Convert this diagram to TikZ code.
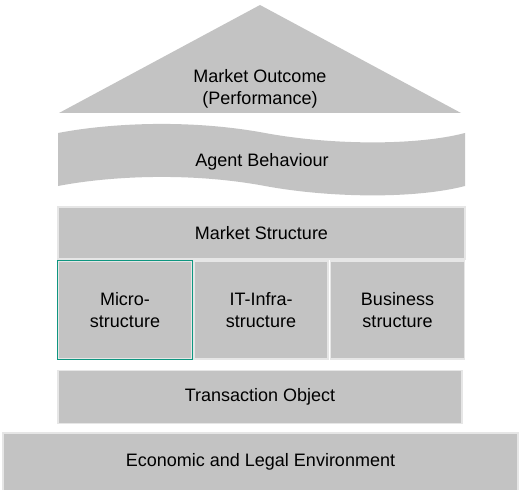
\documentclass[tikz,border=0pt]{standalone}
\usepackage{fontspec}
\setmainfont{Liberation Sans}
\definecolor{housegray}{HTML}{C3C3C3}
\definecolor{seamgray}{HTML}{E6E6E6}
\definecolor{marktea}{HTML}{0E9680}
\tikzset{
  block/.style={fill=housegray, draw=seamgray, line width=1.2pt, inner sep=0pt,
    align=center, font=\fontsize{18}{22}\selectfont},
  label/.style={align=center, font=\fontsize{18}{22}\selectfont}
}
\begin{document}
\begin{tikzpicture}[x=1pt,y=-1pt]
  \useasboundingbox (0,0) rectangle (526,489);

  % roof
  \fill[housegray] (59,113) -- (260,5) -- (461,113) -- cycle;
  \node[label] (outcome) at (260,89) {Market Outcome\\(Performance)};

  % wavy band
  \fill[housegray] (58,133) .. controls (110,123) and (190,119) .. (265,133)
    .. controls (330,145) and (415,146) .. (465,133) -- (465,186)
    .. controls (415,199) and (330,198) .. (265,186)
    .. controls (190,172) and (110,176) .. (58,186) -- cycle;
  \node[label] (behaviour) at (262,161.5) {Agent Behaviour};

  \node[block, minimum width=407pt, minimum height=52pt] (structure) at (261.5,233) {Market Structure};

  \foreach \x/\name/\text in {125/micro/Micro-\\structure,261/infra/IT-Infra-\\structure,397.5/business/Business\\structure}
    \node[block, minimum width=134pt, minimum height=98pt] (\name) at (\x,310) {\text};
  \draw[marktea, line width=1.2pt] (micro.south west) rectangle (micro.north east);

  \node[block, minimum width=404pt, minimum height=53pt] (object) at (260,397) {Transaction Object};
  \node[block, minimum width=515pt, minimum height=58pt] (environment) at (260.5,462) {Economic and Legal Environment};
\end{tikzpicture}
\end{document}
